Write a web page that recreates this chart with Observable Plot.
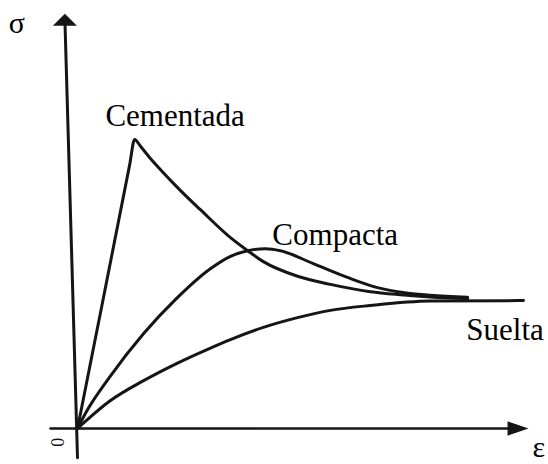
<!DOCTYPE html>
<html>
<head>
<meta charset="utf-8">
<script src="https://cdn.jsdelivr.net/npm/d3@7"></script>
<script src="https://cdn.jsdelivr.net/npm/@observablehq/plot@0.6"></script>
<style>
  html, body { margin: 0; padding: 0; background: #fff; }
  #chart svg { display: block; }
</style>
</head>
<body>
<div id="chart"></div>
<script>
// Strain (ε) and stress (σ) values, arbitrary units
const cementadaX = [0, 0.56, 1.16, 1.27, 1.40, 1.62, 1.84, 2.29, 2.73, 3.40, 3.78, 4.13, 4.89, 5.62, 6.51, 7.11, 7.84, 8.67];
const cementadaY = [0, 3.13, 6.5, 7.12, 6.95, 6.65, 6.38, 5.86, 5.39, 4.70, 4.38, 4.11, 3.75, 3.55, 3.37, 3.30, 3.24, 3.20];

const compactaX = [0, 0.20, 0.71, 1.47, 2.18, 2.96, 3.40, 3.78, 4.18, 4.51, 5.24, 6.0, 6.51, 7.11, 7.84, 8.67];
const compactaY = [0, 0.42, 1.26, 2.34, 3.18, 3.94, 4.24, 4.38, 4.43, 4.38, 4.06, 3.72, 3.52, 3.37, 3.28, 3.23];

const sueltaX = [0, 0.20, 0.71, 1.47, 2.2, 2.93, 3.40, 4.13, 4.89, 5.62, 6.51, 7.84, 9.91];
const sueltaY = [0, 0.20, 0.67, 1.18, 1.60, 1.97, 2.19, 2.49, 2.73, 2.91, 3.03, 3.14, 3.15];

// Curve labels
const labelText = ["Cementada", "Compacta", "Suelta"];
const labelX = [0.62, 4.33, 8.64];
const labelY = [7.46, 4.51, 2.17];

// Hand-drawn axes (σ axis leans slightly), ends in data units
const yAxisX = [-0.28, 0];
const yAxisY = [10.07, -0.72];
const xAxisX = [-0.6, 9.79];
const xAxisY = [0, 0];
const axisNames = ["σ", "ε"];
const axisNameX = [-1.53, 10.11];
const axisNameY = [9.73, -0.7];
const originLabel = "0";

const toRows = (xs, ys, name) => xs.map((x, i) => ({x, y: ys[i], name}));
const curves = [
  ...toRows(cementadaX, cementadaY, "Cementada"),
  ...toRows(compactaX, compactaY, "Compacta"),
  ...toRows(sueltaX, sueltaY, "Suelta")
];
const yAxisRows = toRows(yAxisX, yAxisY, "y");
const xAxisRows = toRows(xAxisX, xAxisY, "x");
const labels = labelText.map((t, i) => ({t, x: labelX[i], y: labelY[i]}));
const names = axisNames.map((t, i) => ({t, x: axisNameX[i], y: axisNameY[i]}));

// Filled arrowheads (custom symbols, size = r*r*π)
const headUp = {draw(ctx, size) { const r = Math.sqrt(size / Math.PI);
  ctx.moveTo(0, -r / 2); ctx.lineTo(r, r / 2); ctx.lineTo(-r, r / 2); ctx.closePath(); }};
const headRight = {draw(ctx, size) { const r = Math.sqrt(size / Math.PI);
  ctx.moveTo(r, 0); ctx.lineTo(-r, -0.68 * r); ctx.lineTo(-r, 0.68 * r); ctx.closePath(); }};

const ink = "#151515";
const font = "'Liberation Serif', 'Times New Roman', serif";

const chart = Plot.plot({
  width: 548,
  height: 464,
  marginLeft: 77,
  marginRight: 21,
  marginTop: 22,
  marginBottom: 36,
  style: {background: "#fff", fontFamily: font},
  x: {domain: [0, 10], axis: null},
  y: {domain: [0, 10], axis: null},
  marks: [
    Plot.line(yAxisRows, {x: "x", y: "y", stroke: ink, strokeWidth: 3}),
    Plot.line(xAxisRows, {x: "x", y: "y", stroke: ink, strokeWidth: 2.6}),
    Plot.dot([yAxisRows[0]], {x: "x", y: "y", symbol: headUp, r: 12, fill: ink, stroke: "none"}),
    Plot.dot([xAxisRows[1]], {x: "x", y: "y", symbol: headRight, r: 10.5, fill: ink, stroke: "none"}),
    Plot.line(curves, {x: "x", y: "y", z: "name", curve: "monotone-x", stroke: ink, strokeWidth: 3, strokeLinejoin: "round", strokeLinecap: "round"}),
    Plot.text(labels, {x: "x", y: "y", text: "t", textAnchor: "start", lineAnchor: "bottom", fontSize: 31, fill: "#000", fontFamily: font}),
    Plot.text(names, {x: "x", y: "y", text: "t", textAnchor: "start", lineAnchor: "bottom", fontSize: 30, fill: "#000", fontFamily: font}),
    Plot.text([{t: originLabel}], {x: () => -0.42, y: () => -0.34, text: "t", rotate: -90, fontSize: 18, fill: ink, fontFamily: font})
  ]
});
document.getElementById("chart").appendChild(chart);
</script>
</body>
</html>
